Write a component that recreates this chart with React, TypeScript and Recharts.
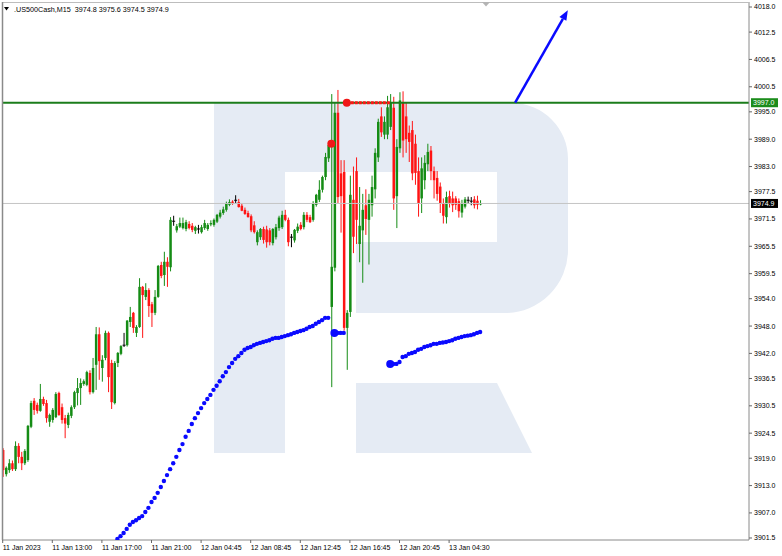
import React from 'react';
import { ComposedChart, Bar, Line, XAxis, YAxis, ReferenceLine } from 'recharts';

const opens = [
  3920.8, 3915.5, 3916.4, 3917.9, 3916.6, 3921.7, 3919.3, 3917.9, 3918.6, 3925.9,
  3931.6, 3930.7, 3929.4, 3932.0, 3931.1, 3927.0, 3927.4, 3928.0, 3933.3, 3930.2,
  3927.8, 3926.3, 3928.3, 3930.2, 3933.3, 3934.4, 3935.3, 3935.1, 3937.7, 3933.5,
  3939.5, 3946.2, 3938.8, 3941.0, 3946.5, 3939.9, 3931.1, 3939.9, 3941.9, 3943.8,
  3943.8, 3948.9, 3950.9, 3946.5, 3947.8, 3956.6, 3954.4, 3955.9, 3952.8, 3950.9,
  3954.4, 3961.4, 3959.2, 3962.1, 3960.9, 3971.0, 3969.0, 3969.8, 3969.5, 3969.3,
  3970.4, 3970.0, 3968.9, 3969.3, 3968.6, 3969.5, 3969.3, 3970.3, 3970.2, 3970.9,
  3972.0, 3972.8, 3973.5, 3974.6, 3975.3, 3975.6, 3975.2, 3974.4, 3973.5, 3972.8,
  3972.1, 3970.1, 3966.4, 3967.5, 3969.3, 3969.2, 3969.0, 3966.2, 3967.5, 3969.5,
  3969.7, 3972.4, 3971.3, 3967.5, 3966.8, 3968.9, 3970.2, 3969.7, 3972.4, 3971.9,
  3971.3, 3974.6, 3975.7, 3977.9, 3980.7, 3984.8, 3952.2, 3960.8, 3994.8, 3981.5,
  3981.8, 3947.6, 3951.1, 3975.7, 3982.0, 3966.0, 3969.0, 3974.5, 3971.3, 3974.5,
  3978.0, 3985.0, 3994.0, 3990.0, 3990.0, 3991.7, 3995.9, 3976.5, 3987.0, 3997.0,
  3994.0, 3990.4, 3991.0, 3988.0, 3982.0, 3976.0, 3980.0, 3983.5, 3986.5, 3982.0,
  3980.5, 3978.6, 3975.0, 3971.9, 3976.5, 3976.0, 3976.0, 3975.4, 3972.9, 3974.2,
  3975.6, 3975.4, 3975.8, 3975.5, 3974.8,
];
const highs = [
  3921.2, 3917.2, 3918.8, 3918.5, 3922.7, 3922.3, 3920.4, 3921.0, 3926.3, 3931.6,
  3932.2, 3931.2, 3935.3, 3932.5, 3931.8, 3928.8, 3930.0, 3933.5, 3933.6, 3931.0,
  3928.5, 3929.0, 3930.6, 3933.8, 3936.6, 3936.5, 3936.3, 3938.2, 3938.3, 3941.0,
  3947.8, 3947.7, 3941.6, 3947.0, 3946.8, 3940.6, 3940.3, 3942.3, 3943.8, 3946.5,
  3949.3, 3952.2, 3951.1, 3948.2, 3958.5, 3956.8, 3957.4, 3956.3, 3953.3, 3955.9,
  3961.4, 3962.1, 3964.3, 3963.1, 3971.9, 3972.2, 3970.4, 3971.8, 3971.8, 3971.3,
  3971.0, 3970.6, 3970.0, 3970.2, 3970.2, 3971.3, 3970.6, 3971.2, 3971.6, 3972.6,
  3973.5, 3974.2, 3975.3, 3975.8, 3975.6, 3976.7, 3975.9, 3975.0, 3974.0, 3973.3,
  3972.5, 3971.0, 3969.0, 3969.5, 3969.8, 3970.0, 3969.5, 3969.5, 3970.4, 3972.2,
  3973.3, 3973.5, 3971.8, 3968.2, 3969.3, 3970.5, 3970.8, 3973.0, 3973.0, 3972.4,
  3975.4, 3977.0, 3980.0, 3981.0, 3986.0, 3988.5, 3998.9, 3997.0, 3999.8, 3984.4,
  3984.4, 3951.5, 3981.0, 3983.0, 3985.0, 3978.5, 3977.0, 3978.0, 3977.0, 3981.0,
  3987.0, 3993.5, 3996.0, 3994.0, 3998.5, 3998.9, 3998.3, 3989.0, 3999.3, 3999.5,
  3997.0, 3992.0, 3993.0, 3990.0, 3985.0, 3985.0, 3985.5, 3988.0, 3987.5, 3983.0,
  3982.0, 3979.5, 3976.0, 3977.5, 3977.7, 3977.5, 3976.5, 3976.0, 3975.7, 3976.3,
  3976.4, 3976.3, 3976.5, 3976.6, 3975.6,
];
const lows = [
  3914.9, 3915.0, 3915.8, 3916.2, 3916.2, 3917.9, 3916.4, 3917.5, 3918.2, 3925.6,
  3928.5, 3928.8, 3929.2, 3930.5, 3926.8, 3925.9, 3926.8, 3927.8, 3928.3, 3926.6,
  3923.4, 3925.6, 3927.8, 3929.8, 3930.6, 3930.7, 3934.9, 3934.8, 3933.0, 3933.2,
  3934.0, 3936.2, 3935.8, 3940.5, 3933.5, 3929.8, 3930.8, 3939.0, 3941.6, 3943.4,
  3943.5, 3947.8, 3946.5, 3945.6, 3947.6, 3945.4, 3953.7, 3950.0, 3947.8, 3950.4,
  3954.2, 3958.5, 3956.8, 3956.6, 3960.0, 3970.0, 3968.5, 3969.5, 3969.2, 3968.8,
  3969.2, 3968.6, 3968.2, 3968.3, 3968.3, 3969.1, 3968.9, 3969.9, 3969.8, 3970.6,
  3971.6, 3972.4, 3973.1, 3974.3, 3974.6, 3975.0, 3974.0, 3973.2, 3972.4, 3971.8,
  3968.6, 3968.3, 3965.7, 3966.9, 3966.1, 3965.2, 3965.7, 3965.7, 3967.0, 3968.9,
  3969.3, 3971.0, 3965.5, 3965.3, 3966.3, 3968.4, 3969.0, 3969.2, 3970.8, 3970.6,
  3970.9, 3974.2, 3975.2, 3977.3, 3980.0, 3984.0, 3934.6, 3960.0, 3975.0, 3968.5,
  3947.0, 3938.4, 3950.0, 3964.0, 3966.0, 3962.0, 3957.5, 3968.0, 3961.5, 3972.0,
  3976.0, 3984.0, 3989.5, 3989.0, 3989.0, 3991.0, 3973.5, 3969.5, 3986.0, 3985.0,
  3986.0, 3984.0, 3980.0, 3979.0, 3972.0, 3972.8, 3978.0, 3982.0, 3980.0, 3976.0,
  3975.5, 3972.8, 3970.5, 3970.5, 3974.0, 3973.0, 3973.5, 3971.8, 3971.8, 3973.8,
  3974.8, 3974.5, 3973.8, 3973.6, 3974.5,
];
const closes = [
  3916.4, 3916.9, 3917.9, 3916.6, 3921.7, 3919.3, 3917.9, 3920.6, 3926.1, 3931.1,
  3929.6, 3929.4, 3932.0, 3930.9, 3927.8, 3928.5, 3929.6, 3933.1, 3928.5, 3927.4,
  3926.6, 3928.5, 3930.2, 3933.5, 3934.4, 3935.5, 3935.9, 3937.9, 3933.5, 3938.8,
  3946.2, 3940.3, 3940.6, 3946.5, 3936.8, 3931.3, 3939.9, 3942.1, 3943.6, 3943.8,
  3949.2, 3950.0, 3947.6, 3947.8, 3956.6, 3954.8, 3955.9, 3952.4, 3950.9, 3954.4,
  3961.2, 3959.0, 3962.1, 3961.0, 3971.3, 3971.0, 3969.9, 3970.6, 3970.6, 3970.8,
  3969.5, 3969.1, 3969.7, 3969.3, 3969.7, 3970.6, 3970.2, 3970.6, 3971.3, 3972.4,
  3972.9, 3973.6, 3975.0, 3975.2, 3974.9, 3975.6, 3974.1, 3973.3, 3972.6, 3971.9,
  3969.0, 3968.6, 3968.6, 3969.3, 3966.9, 3966.4, 3966.4, 3969.3, 3969.7, 3971.8,
  3972.4, 3971.3, 3966.4, 3967.5, 3969.1, 3969.8, 3969.3, 3972.4, 3971.3, 3970.8,
  3974.9, 3976.8, 3977.9, 3980.7, 3985.1, 3987.7, 3961.0, 3994.8, 3976.3, 3976.5,
  3947.6, 3950.9, 3976.8, 3967.6, 3971.3, 3970.0, 3973.5, 3971.5, 3975.7, 3978.5,
  3986.0, 3992.8, 3990.5, 3992.8, 3996.0, 3997.0, 3976.0, 3987.3, 3997.5, 3988.7,
  3989.0, 3988.4, 3981.5, 3981.6, 3975.0, 3982.6, 3983.8, 3986.2, 3982.0, 3980.0,
  3977.0, 3975.0, 3972.2, 3976.3, 3975.0, 3974.5, 3974.6, 3973.2, 3975.0, 3975.8,
  3975.6, 3975.4, 3974.5, 3974.6, 3974.9,
];

// Blue dotted indicator, three runs (start bar index + values)
const blueRunAStart = 37;
const blueRunA = [
  3901.3, 3901.9, 3902.6, 3903.5, 3904.4, 3905.0, 3905.4, 3905.9, 3906.3, 3907.2,
  3908.1, 3909.4, 3910.3, 3911.4, 3912.7, 3914.0, 3915.3, 3916.6, 3917.9, 3919.3,
  3920.8, 3922.1, 3923.7, 3925.0, 3926.5, 3927.8, 3928.9, 3930.0, 3931.1, 3932.0,
  3932.9, 3934.0, 3934.9, 3935.9, 3937.0, 3937.9, 3939.0, 3939.9, 3940.8, 3941.4,
  3942.1, 3942.8, 3943.2, 3943.4, 3943.8, 3944.1, 3944.3, 3944.5, 3944.7, 3944.9,
  3945.2, 3945.4, 3945.4, 3945.6, 3945.8, 3946.0, 3946.2, 3946.5, 3946.7, 3946.9,
  3947.1, 3947.4, 3947.8, 3948.0, 3948.5, 3948.9, 3949.3, 3949.8, 3949.8,
];
const blueRunBStart = 108;
const blueRunB = [3946.5, 3946.5, 3946.5];
const blueRunCStart = 126;
const blueRunC = [
  3939.7, 3939.7, 3940.1, 3941.2, 3941.4, 3941.9, 3942.1, 3942.3, 3942.8, 3943.0,
  3943.4, 3943.6, 3943.8, 3944.1, 3944.1, 3944.3, 3944.4, 3944.5, 3944.7, 3944.9,
  3945.2, 3945.4, 3945.6, 3945.8, 3945.9, 3946.0, 3946.2, 3946.5, 3946.7,
];
const blueBigIdx = [107, 125];
const blueBigVal = [3946.5, 3939.7];

// Red markers
const redBigIdx = [106, 111];
const redBigVal = [3988.0, 3997.0];
const redLineFrom = 111;
const redLineTo = 125;
const redLineVal = 3997.0;

// Levels
const resistance = 3997.0;
const lastPrice = 3974.9;
const arrowIdx = [165.3, 182.3];
const arrowVal = [3997.0, 4017.3];

const yTicks = [4018.0, 4012.5, 4006.5, 4000.5, 3995.0, 3989.0, 3983.0, 3977.5, 3971.5, 3965.5,
  3959.5, 3954.0, 3948.0, 3942.0, 3936.5, 3930.5, 3924.5, 3919.0, 3913.0, 3907.0, 3901.5];
const xTickIdx = [0, 16, 32, 48, 64, 80, 96, 112, 128, 144];
const xTickLabels = ['11 Jan 2023', '11 Jan 13:00', '11 Jan 17:00', '11 Jan 21:00', '12 Jan 04:45',
  '12 Jan 08:45', '12 Jan 12:45', '12 Jan 16:45', '12 Jan 20:45', '13 Jan 04:30'];

const GREEN = '#158c15';
const RED = '#ff1414';
const BLUE = '#0a0aff';
const FONT = '"Liberation Sans", Arial, sans-serif';

const data = opens.map((o, i) => {
  const row: any = {
    i,
    open: o,
    high: highs[i],
    low: lows[i],
    close: closes[i],
    range: [lows[i], highs[i]],
    blue: null,
    blueBig: null,
    red: null,
    redBig: null,
  };
  if (i >= blueRunAStart && i < blueRunAStart + blueRunA.length) row.blue = blueRunA[i - blueRunAStart];
  if (i >= blueRunBStart && i < blueRunBStart + blueRunB.length) row.blue = blueRunB[i - blueRunBStart];
  if (i >= blueRunCStart && i < blueRunCStart + blueRunC.length) row.blue = blueRunC[i - blueRunCStart];
  const bb = blueBigIdx.indexOf(i);
  if (bb >= 0) row.blueBig = blueBigVal[bb];
  const rb = redBigIdx.indexOf(i);
  if (rb >= 0) row.redBig = redBigVal[rb];
  if (i >= redLineFrom && i <= redLineTo) row.red = redLineVal;
  return row;
});

const Candle = (props: any) => {
  const { x, y, width, height, payload } = props;
  if (!payload || x == null || y == null) return null;
  const { open, close, high, low } = payload;
  const top = Math.min(y, y + height);
  const h = Math.abs(height);
  const cx = x + width / 2;
  const range = high - low;
  const toY = (p: number) => (range > 0 ? top + ((high - p) / range) * h : top);
  const color = close > open ? GREEN : close < open ? RED : '#000';
  const bTop = toY(Math.max(open, close));
  const bBot = toY(Math.min(open, close));
  return (
    <g>
      <line x1={cx} x2={cx} y1={top} y2={top + h} stroke={color} strokeWidth={1} />
      {close === open ? (
        <line x1={cx - 1.5} x2={cx + 1.5} y1={bTop} y2={bTop} stroke={color} strokeWidth={1} />
      ) : (
        <rect x={cx - 1.25} y={bTop} width={2.5} height={Math.max(bBot - bTop, 1)} fill={color} />
      )}
    </g>
  );
};

const XTick = (props: any) => {
  const { x, y, payload } = props;
  const k = xTickIdx.indexOf(payload.value);
  return (
    <g>
      <line x1={x} x2={x} y1={y} y2={y + 3} stroke="#666" />
      <text x={x} y={y + 10} textAnchor="start" fontSize={7} fontFamily={FONT} fill="#000">
        {k >= 0 ? xTickLabels[k] : ''}
      </text>
    </g>
  );
};

const PriceTag = (props: any) => {
  const { viewBox, text, bg } = props;
  if (!viewBox) return null;
  const xr = viewBox.x + viewBox.width;
  const yy = viewBox.y;
  return (
    <g>
      <rect x={xr + 2} y={yy - 4.5} width={27} height={9} fill={bg} />
      <text x={xr + 4} y={yy + 2.6} fontSize={7} fontFamily={FONT} fill="#fff">{text}</text>
    </g>
  );
};

const ArrowShape = (props: any) => {
  const { x1, y1, x2, y2 } = props;
  if ([x1, y1, x2, y2].some((v) => v == null || isNaN(v))) return null;
  const a = Math.atan2(y2 - y1, x2 - x1);
  const len = 10;
  const hw = 4;
  const bx = x2 - len * Math.cos(a);
  const by = y2 - len * Math.sin(a);
  const px = -Math.sin(a) * hw;
  const py = Math.cos(a) * hw;
  return (
    <g>
      <line x1={x1} y1={y1} x2={bx} y2={by} stroke={BLUE} strokeWidth={2.5} />
      <polygon points={`${x2},${y2} ${bx + px},${by + py} ${bx - px},${by - py}`} fill={BLUE} />
    </g>
  );
};

export default function App() {
  return (
    <div style={{ position: 'absolute', left: 0, top: 0, width: 782, height: 556, background: '#fff', overflow: 'hidden' }}>
      <svg width={782} height={556} style={{ position: 'absolute', left: 0, top: 0 }}>
        <path
          d="M214,103 H512 A56,56 0 0 1 568,159 V250 A63,63 0 0 1 505,313 H356 V242 H497 V172 H285 V453 H214 Z"
          fill="#e5ebf4"
        />
        <path d="M356,383 H497 L532,453 H356 Z" fill="#e5ebf4" />
      </svg>
      <div style={{ position: 'absolute', left: 0, top: 0 }}>
        <ComposedChart width={782} height={556} data={data} margin={{ top: 2, right: 0, bottom: 0, left: 2 }}>
          <XAxis
            type="number"
            dataKey="i"
            domain={[-0.226, 240.74]}
            allowDataOverflow
            ticks={xTickIdx}
            interval={0}
            tick={<XTick />}
            tickLine={false}
            tickSize={0}
            tickMargin={0}
            axisLine={{ stroke: '#8a8a8a' }}
            height={16}
          />
          <YAxis
            orientation="right"
            type="number"
            domain={[3901.06, 4019.1]}
            allowDataOverflow
            ticks={yTicks}
            interval={0}
            width={33}
            tickSize={3}
            tickMargin={2}
            tickLine={{ stroke: '#666' }}
            axisLine={{ stroke: '#8a8a8a' }}
            tickFormatter={(v: number) => v.toFixed(1)}
            tick={{ fontSize: 7, fontFamily: FONT, fill: '#000' }}
          />
          <ReferenceLine
            y={lastPrice}
            stroke="#c4c4c4"
            strokeWidth={1}
            label={<PriceTag text={lastPrice.toFixed(1)} bg="#000" />}
          />
          <ReferenceLine
            y={resistance}
            stroke="#1b7d1b"
            strokeWidth={2}
            label={<PriceTag text={resistance.toFixed(1)} bg="#1b8c1b" />}
          />
          <Bar dataKey="range" barSize={2} shape={<Candle />} isAnimationActive={false} />
          <Line
            dataKey="blue"
            stroke="none"
            dot={{ r: 2.2, fill: BLUE, stroke: 'none' }}
            activeDot={false}
            isAnimationActive={false}
          />
          <Line
            dataKey="blueBig"
            stroke="none"
            dot={{ r: 4, fill: BLUE, stroke: 'none' }}
            activeDot={false}
            isAnimationActive={false}
          />
          <Line
            dataKey="red"
            stroke={RED}
            strokeWidth={3}
            strokeDasharray="3 1"
            dot={false}
            activeDot={false}
            isAnimationActive={false}
          />
          <Line
            dataKey="redBig"
            stroke="none"
            dot={{ r: 4, fill: '#f01818', stroke: 'none' }}
            activeDot={false}
            isAnimationActive={false}
          />
          <ReferenceLine
            segment={[{ x: arrowIdx[0], y: arrowVal[0] }, { x: arrowIdx[1], y: arrowVal[1] }]}
            shape={<ArrowShape />}
          />
        </ComposedChart>
      </div>
      <svg width={782} height={556} style={{ position: 'absolute', left: 0, top: 0, pointerEvents: 'none' }}>
        <line x1={2} y1={2.5} x2={749} y2={2.5} stroke="#bdbdbd" />
        <line x1={2.5} y1={2} x2={2.5} y2={540} stroke="#8a8a8a" strokeWidth={1.5} />
        <polygon points="4,7 9,7 6.5,10.5" fill="#000" />
        <polygon points="482,2 490,2 486,6.5" fill="#b4b4b4" />
        <text x={14} y={11.5} fontSize={7.2} fontFamily={FONT} fill="#000">
          .US500Cash,M15{'\u00a0\u00a0'}3974.8 3975.6 3974.5 3974.9
        </text>
      </svg>
    </div>
  );
}
